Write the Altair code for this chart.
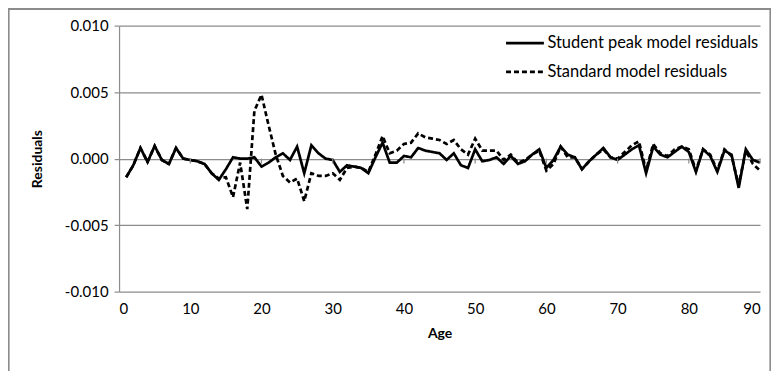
import altair as alt
import pandas as pd

ages = list(range(1, 91))

student_peak = [
    -0.0014, -0.0005, 0.0008, -0.00025, 0.00095, -0.0001, -0.0004, 0.0008, 0.0, -0.0001,
    -0.0002, -0.0004, -0.0011, -0.0016, -0.0008, 0.0001, 0.0, 0.0, 0.0001, -0.0006,
    -0.0003, 0.0001, 0.0004, -0.0001, 0.0009, -0.0011, 0.001, 0.0004, 0.0, -0.0001,
    -0.001, -0.0005, -0.0006, -0.0007, -0.0011, 0.0001, 0.0012, -0.0003, -0.0003, 0.0002,
    0.0001, 0.0008, 0.0006, 0.0005, 0.0004, -0.0001, 0.0004, -0.0005, -0.0007, 0.0007,
    -0.0002, -0.0001, 0.0001, -0.0004, 0.0002, -0.0004, -0.0002, 0.0003, 0.0007, -0.0007,
    -0.0001, 0.0009, 0.0003, 0.0001, -0.0008, -0.0002, 0.0003, 0.0008, 0.0001, -0.0001,
    0.0003, 0.0007, 0.001, -0.0011, 0.0009, 0.0003, 0.0001, 0.0005, 0.0009, 0.0005,
    -0.001, 0.0007, 0.0002, -0.001, 0.0006, 0.0003, -0.0022, 0.0007, -0.0001, -0.0003,
]

standard = [
    -0.0014, -0.0005, 0.0008, -0.00025, 0.00095, -0.0001, -0.0004, 0.0008, 0.0, -0.0001,
    -0.0002, -0.0004, -0.0011, -0.0015, -0.0014, -0.0029, -0.0003, -0.0038, 0.0036, 0.0048,
    0.0025, 0.0003, -0.0013, -0.0018, -0.0015, -0.0032, -0.0011, -0.0013, -0.0013, -0.0011,
    -0.0016, -0.0007, -0.0006, -0.0007, -0.001, 0.0003, 0.0017, 0.0004, 0.0006, 0.0011,
    0.0012, 0.0019, 0.0016, 0.0015, 0.0014, 0.0011, 0.0014, 0.0007, 0.0003, 0.0015,
    0.0006, 0.0006, 0.0006, -0.0001, 0.0003, -0.0003, -0.0001, 0.0003, 0.0006, -0.0009,
    -0.0004, 0.0009, 0.0001, 0.0001, -0.0008, -0.0002, 0.0003, 0.0007, 0.0001, 0.0,
    0.0005, 0.001, 0.0013, -0.0009, 0.0011, 0.0004, 0.0002, 0.0007, 0.0009, 0.0007,
    -0.0009, 0.0007, 0.0003, -0.0009, 0.0007, 0.0002, -0.002, 0.0006, -0.0004, -0.0009,
]

series_names = ["Student peak model residuals", "Standard model residuals"]
x_ticks = [0, 10, 20, 30, 40, 50, 60, 70, 80, 90]
y_ticks = [-0.010, -0.005, 0.0, 0.005, 0.010]
zero_ticks = [10, 20, 30, 40, 50, 60, 70, 80, 90]

df = pd.DataFrame({
    "Age": ages + ages,
    "Residual": student_peak + standard,
    "Series": [series_names[0]] * len(ages) + [series_names[1]] * len(ages),
})
ticks_df = pd.DataFrame({"Age": zero_ticks})

FONT = "Lato"
GRID = "#8c8c8c"

x_scale = alt.Scale(domain=[0, 90], nice=False, zero=False)
y_scale = alt.Scale(domain=[-0.010, 0.010], nice=False)

lines = alt.Chart(df).mark_line(strokeWidth=2.7, color="black").encode(
    x=alt.X("Age:Q", scale=x_scale,
            axis=alt.Axis(values=x_ticks, title="Age", grid=False, domain=False, ticks=False,
                          labelPadding=10, titlePadding=10, labelFontSize=15, titleFontSize=14,
                          labelFont=FONT, titleFont=FONT, labelColor="black", titleColor="black",
                          titleFontWeight="bold")),
    y=alt.Y("Residual:Q", scale=y_scale,
            axis=alt.Axis(values=y_ticks, title="Residuals", grid=True,
                          labelExpr="(datum.value < 0 ? '-' : '') + format(abs(datum.value), '.3f')",
                          gridColor=GRID, gridWidth=1.2, domainColor=GRID, domainWidth=1.2,
                          tickColor=GRID, tickSize=5, tickWidth=1.2, labelPadding=6,
                          labelFontSize=15, titleFontSize=14, labelFont=FONT, titleFont=FONT,
                          labelColor="black", titleColor="black", titleFontWeight="bold",
                          titlePadding=20)),
    strokeDash=alt.StrokeDash(
        "Series:N",
        scale=alt.Scale(domain=series_names, range=[[1, 0], [5, 3]]),
        legend=alt.Legend(title=None, orient="none", legendX=387, legendY=-3,
                          symbolType="stroke", symbolSize=1444, symbolStrokeWidth=2.7,
                          symbolStrokeColor="black", labelFont=FONT, labelFontSize=16.5,
                          labelColor="black", labelOffset=2, rowPadding=-9, labelLimit=0),
    ),
    detail="Series:N",
)

zero_tick_marks = alt.Chart(ticks_df).mark_rule(color=GRID, strokeWidth=1.2, y2Offset=5).encode(
    x=alt.X("Age:Q", scale=x_scale),
    y=alt.datum(0.0),
    y2=alt.datum(0.0),
)

frame = alt.Chart(ticks_df).mark_rect(fill=None, stroke=GRID, strokeWidth=1.2).encode(
    x=alt.value(-111),
    x2=alt.value(654),
    y=alt.value(-16.5),
    y2=alt.value(400),
)

chart = alt.layer(frame, lines, zero_tick_marks).properties(
    width=643.5,
    height=267,
    padding={"left": 111.5, "top": 17, "right": 11, "bottom": 79},
    autosize=alt.AutoSizeParams(type="none"),
    background="white",
).configure_view(stroke=None)

chart.save("out.html", embed_options={"renderer": "svg", "actions": False})
